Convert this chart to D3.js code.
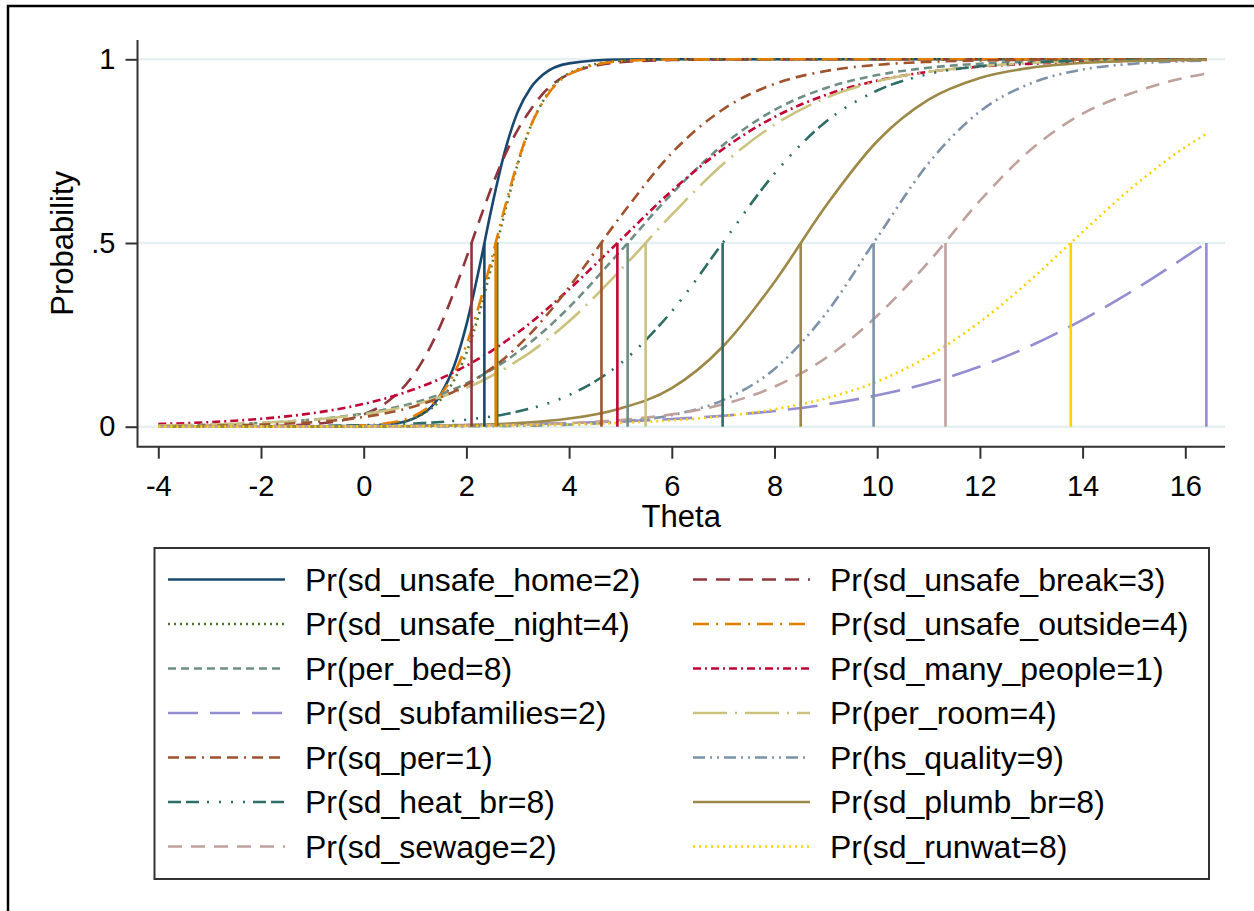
<!DOCTYPE html>
<html>
<head>
<meta charset="utf-8">
<script src="https://cdn.jsdelivr.net/npm/d3@7"></script>
<style>
  html, body { margin: 0; padding: 0; background: #fff; }
  svg { display: block; font-family: "Liberation Sans", Arial, sans-serif; }
  .tick-label { font-size: 29px; fill: #000; }
  .axis-title { font-size: 31px; fill: #000; }
  .legend-label { font-size: 32px; fill: #000; }
</style>
</head>
<body>
<svg id="chart" width="1254" height="911"></svg>
<script>
// =====================
// Data
// =====================
const theta = [-4, -3, -2, -1, 0, 0.5, 1, 1.5, 1.75, 2, 2.25, 2.5, 2.75, 3, 3.25, 3.5, 4, 5, 6, 7, 8, 9, 10, 11, 12, 13, 14, 15, 16, 16.41];

const pUnsafeHome    = [0, 0, 0, 0.0001, 0.0016, 0.0061, 0.0239, 0.088, 0.161, 0.277, 0.432, 0.601, 0.750, 0.857, 0.922, 0.959, 0.989, 0.9993, 1, 1, 1, 1, 1, 1, 1, 1, 1, 1, 1, 1];
const pUnsafeBreak   = [0.0001, 0.0003, 0.0014, 0.007, 0.0336, 0.0718, 0.147, 0.277, 0.364, 0.460, 0.560, 0.655, 0.739, 0.808, 0.863, 0.908, 0.960, 0.992, 0.998, 0.9995, 1, 1, 1, 1, 1, 1, 1, 1, 1, 1];
const pUnsafeNight   = [0, 0, 0, 0.0003, 0.0025, 0.0079, 0.0246, 0.0738, 0.124, 0.201, 0.309, 0.443, 0.585, 0.715, 0.817, 0.888, 0.962, 0.996, 0.9996, 1, 1, 1, 1, 1, 1, 1, 1, 1, 1, 1];
const pUnsafeOutside = [0, 0, 0, 0.0004, 0.0035, 0.0105, 0.0307, 0.087, 0.142, 0.223, 0.332, 0.462, 0.598, 0.720, 0.818, 0.886, 0.959, 0.995, 0.9995, 1, 1, 1, 1, 1, 1, 1, 1, 1, 1, 1];
const pPerBed        = [0.0029, 0.0054, 0.0103, 0.0193, 0.0359, 0.0488, 0.066, 0.0887, 0.102, 0.118, 0.136, 0.156, 0.178, 0.203, 0.230, 0.259, 0.325, 0.478, 0.634, 0.767, 0.862, 0.922, 0.957, 0.977, 0.988, 0.9935, 0.9966, 0.998, 0.999, 0.9993];
const pManyPeople    = [0.0073, 0.0125, 0.0215, 0.0367, 0.062, 0.08, 0.103, 0.131, 0.148, 0.166, 0.186, 0.207, 0.231, 0.256, 0.283, 0.312, 0.374, 0.508, 0.642, 0.756, 0.843, 0.903, 0.942, 0.966, 0.98, 0.988, 0.9932, 0.996, 0.9977, 0.998];
const pSubfamilies   = [0.0005, 0.0008, 0.0011, 0.0016, 0.0023, 0.0028, 0.0033, 0.004, 0.0044, 0.0048, 0.0053, 0.0058, 0.0064, 0.007, 0.0076, 0.0083, 0.01, 0.0145, 0.0208, 0.0299, 0.0427, 0.0606, 0.0855, 0.119, 0.164, 0.221, 0.291, 0.372, 0.462, 0.5];
const pPerRoom       = [0.0031, 0.0056, 0.0103, 0.0187, 0.0339, 0.0456, 0.0607, 0.0808, 0.093, 0.106, 0.121, 0.139, 0.158, 0.18, 0.203, 0.229, 0.287, 0.426, 0.577, 0.715, 0.822, 0.895, 0.94, 0.966, 0.981, 0.99, 0.9945, 0.997, 0.9984, 0.9987];
const pSqPer         = [0.0012, 0.0026, 0.0057, 0.0123, 0.0263, 0.0384, 0.0557, 0.08, 0.095, 0.114, 0.135, 0.16, 0.187, 0.219, 0.254, 0.293, 0.38, 0.572, 0.745, 0.864, 0.933, 0.968, 0.985, 0.993, 0.9968, 0.9985, 0.9993, 0.9997, 0.9999, 0.9999];
const pHsQuality     = [0, 0, 0, 0.0001, 0.0002, 0.0003, 0.0004, 0.0007, 0.0008, 0.001, 0.0013, 0.0016, 0.0019, 0.0024, 0.003, 0.0037, 0.0057, 0.0135, 0.0317, 0.0725, 0.157, 0.308, 0.515, 0.717, 0.858, 0.935, 0.972, 0.988, 0.995, 0.9964];
const pHeatBr        = [0.0002, 0.0004, 0.0008, 0.0018, 0.004, 0.0059, 0.0088, 0.0129, 0.0157, 0.019, 0.0232, 0.028, 0.0339, 0.0411, 0.0497, 0.0596, 0.0862, 0.172, 0.314, 0.502, 0.689, 0.83, 0.915, 0.96, 0.981, 0.9914, 0.9961, 0.9982, 0.9992, 0.9994];
const pPlumbBr       = [0, 0.0001, 0.0001, 0.0003, 0.0008, 0.0012, 0.0018, 0.0028, 0.0034, 0.0042, 0.0052, 0.0064, 0.0078, 0.0097, 0.0119, 0.0146, 0.0221, 0.0498, 0.105, 0.219, 0.394, 0.601, 0.777, 0.89, 0.949, 0.977, 0.99, 0.9957, 0.9981, 0.9987];
const pSewage        = [0.0001, 0.0001, 0.0002, 0.0004, 0.0008, 0.0011, 0.0015, 0.002, 0.0024, 0.0028, 0.0033, 0.0038, 0.0045, 0.0052, 0.0061, 0.0072, 0.0098, 0.0182, 0.0336, 0.0612, 0.109, 0.187, 0.302, 0.448, 0.615, 0.755, 0.852, 0.91, 0.95, 0.961];
const pRunwat        = [0.0001, 0.0002, 0.0003, 0.0005, 0.0008, 0.001, 0.0013, 0.0017, 0.0019, 0.0022, 0.0025, 0.0028, 0.0032, 0.0037, 0.0042, 0.0048, 0.0062, 0.0103, 0.0173, 0.0287, 0.0474, 0.0773, 0.123, 0.192, 0.285, 0.401, 0.53, 0.655, 0.761, 0.797];

const seriesNames = [
  "Pr(sd_unsafe_home=2)", "Pr(sd_unsafe_break=3)",
  "Pr(sd_unsafe_night=4)", "Pr(sd_unsafe_outside=4)",
  "Pr(per_bed=8)", "Pr(sd_many_people=1)",
  "Pr(sd_subfamilies=2)", "Pr(per_room=4)",
  "Pr(sq_per=1)", "Pr(hs_quality=9)",
  "Pr(sd_heat_br=8)", "Pr(sd_plumb_br=8)",
  "Pr(sd_sewage=2)", "Pr(sd_runwat=8)"
];
const seriesProbs = [
  pUnsafeHome, pUnsafeBreak, pUnsafeNight, pUnsafeOutside, pPerBed, pManyPeople, pSubfamilies,
  pPerRoom, pSqPer, pHsQuality, pHeatBr, pPlumbBr, pSewage, pRunwat
];
// theta where each curve crosses .5 (the vertical drop lines)
const difficulty = [2.35, 2.10, 2.60, 2.57, 5.14, 4.94, 16.41, 5.49, 4.63, 9.93, 6.99, 8.51, 11.33, 13.77];

const xTicks = [-4, -2, 0, 2, 4, 6, 8, 10, 12, 14, 16];
const yTicks = [0, 0.5, 1];

// =====================
// Styles per series
// =====================
const colors = ["#1a476f", "#90353b", "#55752f", "#e37e00", "#6e8e84", "#c10534", "#938dd2",
                "#cac27e", "#a0522d", "#7b92a8", "#2d6d66", "#9c8847", "#bfa19c", "#ffd200"];
const dashes = [
  null, "14,9", "2,4", "16,7,2,7", "8,5", "8,4,2,4", "30,12",
  "34,8,2,8", "11,6,11,6,2,6", "12,5,2,5,2,5", "13,5,13,8,2,10,2,10,2,10,2,8",
  null, "14,9", "2,4"
];

// =====================
// Chart
// =====================
const svg = d3.select("#chart");

// outer frame (only top/left edges fall inside the picture)
svg.append("path")
  .attr("d", "M8,911 V6 H1254")
  .attr("fill", "none")
  .attr("stroke", "#000")
  .attr("stroke-width", 2.5);

const x = d3.scaleLinear().domain([-4, 16]).range([158.3, 1185.3]);
const y = d3.scaleLinear().domain([0, 1]).range([426.7, 59.3]);

const plotLeft = 137.5, plotRight = 1225, plotTop = 40, plotBottom = 446.7;

// gridlines
svg.append("g")
  .selectAll("line")
  .data(yTicks)
  .join("line")
  .attr("x1", plotLeft)
  .attr("x2", plotRight)
  .attr("y1", d => y(d))
  .attr("y2", d => y(d))
  .attr("stroke", "#e6eff1")
  .attr("stroke-width", 2.5);

// axes (plain hyphen for negatives, like the original)
const xAxis = svg.append("g")
  .attr("transform", `translate(0,${plotBottom})`)
  .call(d3.axisBottom(x).tickValues(xTicks).tickSize(12).tickPadding(17).tickSizeOuter(0)
    .tickFormat(d => String(d)));

const yAxis = svg.append("g")
  .attr("transform", `translate(${plotLeft},0)`)
  .call(d3.axisLeft(y).tickValues(yTicks).tickSize(12).tickPadding(10)
    .tickFormat(d => d === 0.5 ? ".5" : String(d)));

[xAxis, yAxis].forEach(g => {
  g.attr("font-family", null).attr("font-size", null);
  g.select(".domain").remove();
  g.selectAll(".tick line").attr("stroke", "#333").attr("stroke-width", 2);
  g.selectAll(".tick text").attr("class", "tick-label").attr("fill", null);
});

svg.append("path")
  .attr("d", `M${plotLeft},${plotTop} V${plotBottom} H${plotRight}`)
  .attr("fill", "none")
  .attr("stroke", "#333")
  .attr("stroke-width", 2);

// axis titles
svg.append("text")
  .attr("class", "axis-title")
  .attr("x", (plotLeft + plotRight) / 2)
  .attr("y", 527)
  .attr("text-anchor", "middle")
  .text("Theta");

svg.append("text")
  .attr("class", "axis-title")
  .attr("transform", `translate(73,${(plotTop + plotBottom) / 2}) rotate(-90)`)
  .attr("text-anchor", "middle")
  .text("Probability");

// curves
const line = d3.line()
  .x(d => x(d[0]))
  .y(d => y(d[1]))
  .curve(d3.curveMonotoneX);

svg.append("g")
  .selectAll("path")
  .data(seriesProbs)
  .join("path")
  .attr("d", probs => line(theta.map((t, i) => [t, probs[i]])))
  .attr("fill", "none")
  .attr("stroke", (d, i) => colors[i])
  .attr("stroke-width", 2.6)
  .attr("stroke-dasharray", (d, i) => dashes[i]);

// drop lines at p = .5
svg.append("g")
  .selectAll("line")
  .data(difficulty)
  .join("line")
  .attr("x1", d => x(d))
  .attr("x2", d => x(d))
  .attr("y1", y(0))
  .attr("y2", y(0.5))
  .attr("stroke", (d, i) => colors[i])
  .attr("stroke-width", 2.6);

// legend
const legend = svg.append("g");
legend.append("rect")
  .attr("x", 154.5)
  .attr("y", 548)
  .attr("width", 1054.5)
  .attr("height", 331)
  .attr("fill", "#fff")
  .attr("stroke", "#333")
  .attr("stroke-width", 2);

const colX = [168, 693];
const items = legend.selectAll(".item")
  .data(seriesNames)
  .join("g")
  .attr("class", "item")
  .attr("transform", (d, i) => `translate(${colX[i % 2]},${579.5 + Math.floor(i / 2) * 44.5})`);

items.append("line")
  .attr("x1", 0)
  .attr("x2", 117)
  .attr("stroke", (d, i) => colors[i])
  .attr("stroke-width", 2.6)
  .attr("stroke-dasharray", (d, i) => dashes[i]);

items.append("text")
  .attr("class", "legend-label")
  .attr("x", 137)
  .attr("y", 11)
  .text(d => d);
</script>
</body>
</html>
